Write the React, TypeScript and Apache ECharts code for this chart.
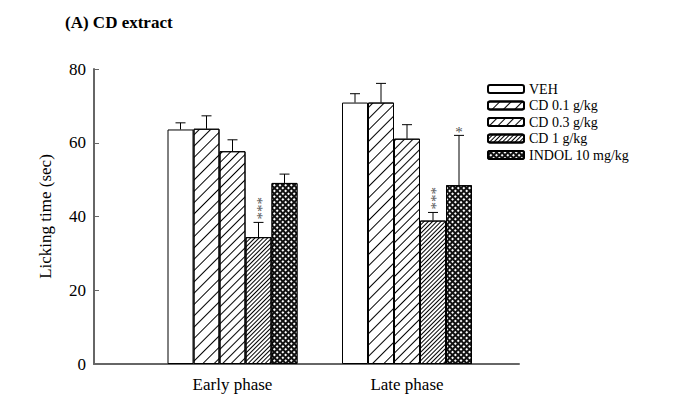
import React, { useEffect, useRef } from "react";
import * as echarts from "echarts";

const categories = ["Early phase", "Late phase"];
const seriesNames = ["VEH", "CD 0.1 g/kg", "CD 0.3 g/kg", "CD 1 g/kg", "INDOL 10 mg/kg"];
// values per series: [Early, Late]
const vehValues = [63.6, 70.9];
const cd01Values = [63.8, 70.9];
const cd03Values = [57.7, 61.1];
const cd1Values = [34.4, 38.9];
const indolValues = [49.1, 48.5];
const vehErr = [1.8, 2.4];
const cd01Err = [3.5, 5.2];
const cd03Err = [3.1, 3.8];
const cd1Err = [4.0, 2.2];
const indolErr = [2.4, 13.5];
const vehStars = ["", ""];
const cd01Stars = ["", ""];
const cd03Stars = ["", ""];
const cd1Stars = ["***", "***"];
const indolStars = ["", "*"];
const yTicks = [0, 20, 40, 60, 80];

const allValues = [vehValues, cd01Values, cd03Values, cd1Values, indolValues];
const allErr = [vehErr, cd01Err, cd03Err, cd1Err, indolErr];
const allStars = [vehStars, cd01Stars, cd03Stars, cd1Stars, indolStars];

const BAR_W = 26;
const FONT = "'Liberation Serif', 'Times New Roman', serif";

const decals: any[] = [
  null,
  { symbol: "rect", symbolSize: 1, color: "#000", backgroundColor: "#fff", dashArrayX: [1, 0], dashArrayY: [1, 6.5], rotation: -Math.PI / 4 },
  { symbol: "rect", symbolSize: 1, color: "#000", backgroundColor: "#fff", dashArrayX: [1, 0], dashArrayY: [1, 5], rotation: -Math.PI / 4 },
  { symbol: "rect", symbolSize: 1, color: "#000", backgroundColor: "#fff", dashArrayX: [1, 0], dashArrayY: [1, 1.8], rotation: -Math.PI / 4 },
  { symbol: "rect", symbolSize: 1, color: "#fff", backgroundColor: "#111", dashArrayX: [1.5, 1.5], dashArrayY: [1.5, 1.5], rotation: Math.PI / 4 },
];

export default function App() {
  const ref = useRef<HTMLDivElement>(null);
  useEffect(() => {
    if (!ref.current) return;
    const chart = echarts.init(ref.current, null, { renderer: "svg" });

    const barSeries = seriesNames.map((name, si) => ({
      name,
      type: "bar",
      xAxisIndex: 1,
      yAxisIndex: 1,
      barWidth: BAR_W,
      barGap: "0%",
      data: allValues[si],
      itemStyle: {
        color: si === 4 ? "#111" : "#fff",
        borderColor: "#000",
        borderWidth: 1,
        decal: decals[si] || undefined,
      },
    }));

    const errData: number[][] = [];
    seriesNames.forEach((_, si) => {
      categories.forEach((_c, ci) => {
        errData.push([ci, allValues[si][ci], allErr[si][ci], si]);
      });
    });

    const errSeries = {
      type: "custom",
      xAxisIndex: 1,
      yAxisIndex: 1,
      clip: false,
      z: 5,
      data: errData,
      renderItem: (params: any, api: any) => {
        const ci = api.value(0);
        const v = api.value(1);
        const e = api.value(2);
        const si = api.value(3);
        const base = api.coord([ci, v]);
        const top = api.coord([ci, v + e]);
        const x = base[0] + (si - 2) * BAR_W;
        const stars = allStars[si][ci];
        const children: any[] = [
          { type: "line", shape: { x1: x, y1: base[1], x2: x, y2: top[1] }, style: { stroke: "#000", lineWidth: 1 } },
          { type: "line", shape: { x1: x - 5, y1: top[1], x2: x + 5, y2: top[1] }, style: { stroke: "#000", lineWidth: 1 } },
        ];
        if (stars.length > 1) {
          // stacked vertically: one text element, rotated
          children.push({
            type: "text",
            x: x + 3,
            y: top[1] - 3,
            rotation: Math.PI / 2,
            style: {
              text: stars,
              align: "left",
              verticalAlign: "middle",
              fill: "#555",
              font: "15px " + FONT,
            },
          });
        } else if (stars) {
          children.push({
            type: "text",
            x: x,
            y: top[1] + 4,
            style: {
              text: stars,
              align: "center",
              verticalAlign: "bottom",
              fill: "#555",
              font: "15px " + FONT,
            },
          });
        }
        return { type: "group", children };
      },
    };

    chart.setOption({
      animation: false,
      backgroundColor: "#fff",
      title: {
        text: "(A) CD extract",
        left: 60,
        top: 9,
        textStyle: { fontFamily: FONT, fontSize: 17, fontWeight: "bold", color: "#000" },
      },
      legend: {
        data: seriesNames,
        orient: "vertical",
        left: 487,
        top: 82,
        padding: 0,
        itemWidth: 36,
        itemHeight: 8,
        itemGap: 2.5,
        textStyle: { fontFamily: FONT, fontSize: 14, color: "#000", lineHeight: 13 },
      },
      grid: [
        { left: 94, top: 69, width: 425, height: 295 },
        { left: 145.25, top: 69, width: 349, height: 295 },
      ],
      xAxis: [
        {
          type: "value",
          gridIndex: 0,
          min: 0,
          max: 1,
          axisLine: { show: true, lineStyle: { color: "#666", width: 2 } },
          axisTick: { show: false },
          axisLabel: { show: false },
          splitLine: { show: false },
        },
        {
          type: "category",
          gridIndex: 1,
          data: categories,
          axisLine: { show: false },
          axisTick: { show: false },
          axisLabel: { fontFamily: FONT, fontSize: 17, color: "#000", margin: 12 },
        },
      ],
      yAxis: [
        {
          type: "value",
          gridIndex: 0,
          min: yTicks[0],
          max: yTicks[yTicks.length - 1],
          interval: 20,
          name: "Licking time (sec)",
          nameLocation: "middle",
          nameGap: 40,
          nameTextStyle: { fontFamily: FONT, fontSize: 17, color: "#000" },
          axisLine: { show: true, lineStyle: { color: "#666", width: 2 } },
          axisTick: { show: true, inside: true, length: 5, lineStyle: { color: "#666", width: 1 } },
          axisLabel: { fontFamily: FONT, fontSize: 17, color: "#000", margin: 8 },
          splitLine: { show: false },
        },
        {
          type: "value",
          gridIndex: 1,
          min: yTicks[0],
          max: yTicks[yTicks.length - 1],
          show: false,
        },
      ],
      series: [...barSeries, errSeries],
    });
    return () => chart.dispose();
  }, []);
  return <div ref={ref} style={{ position: "fixed", left: 0, top: 0, width: 678, height: 416 }} />;
}
